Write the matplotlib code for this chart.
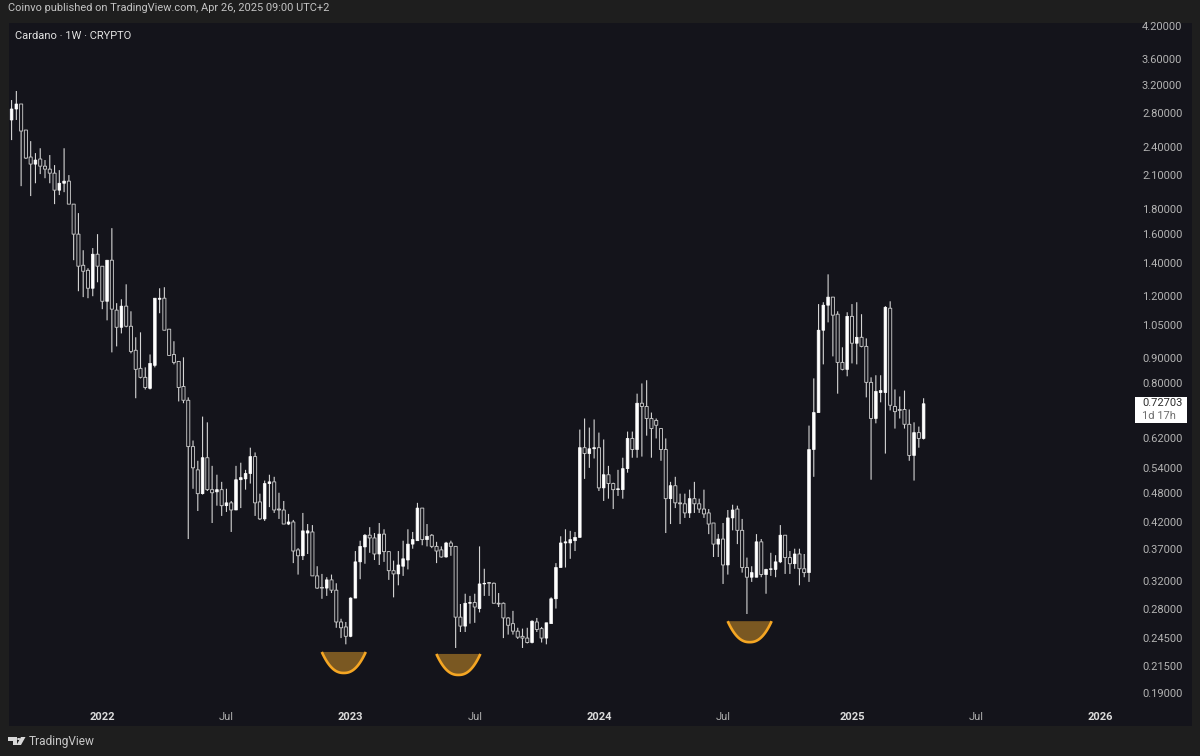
# Cardano weekly candles, log price axis
import numpy as np
import pandas as pd
import matplotlib
matplotlib.use("Agg")
import matplotlib.pyplot as plt
import matplotlib.dates as mdates
from matplotlib.patches import Rectangle, Polygon

plt.rcParams['font.family'] = ['Roboto', 'DejaVu Sans']

# weekly OHLC
opens = [2.715,2.857,2.924,2.591,2.286,2.212,2.265,2.191,2.161,2.121,
         1.960,2.024,2.044,1.837,1.598,1.383,1.351,1.243,1.456,1.377,
         1.170,1.416,1.123,1.037,1.144,1.042,.932,.857,.822,.781,
         .869,1.181,1.187,1.028,.914,.885,.788,.739,.596,.535,
         .479,.566,.488,.483,.488,.453,.459,.444,.511,.513,
         .526,.569,.461,.426,.502,.506,.446,.444,.416,.420,
         .369,.359,.399,.401,.327,.310,.309,.321,.306,.264,
         .258,.247,.295,.349,.374,.395,.390,.362,.397,.366,
         .335,.330,.342,.352,.379,.385,.448,.387,.395,.375,
         .369,.357,.381,.375,.270,.259,.288,.289,.281,.315,
         .317,.316,.288,.288,.269,.262,.253,.247,.245,.240,
         .264,.256,.245,.262,.294,.340,.381,.381,.385,.391,
         .593,.577,.590,.593,.492,.523,.502,.488,.488,.538,
         .619,.588,.729,.718,.679,.673,.648,.588,.468,.497,
         .459,.457,.438,.468,.457,.446,.438,.418,.379,.388,
         .344,.428,.446,.404,.340,.325,.325,.383,.329,.337,
         .337,.349,.395,.356,.346,.362,.338,.332,.588,.698,
         1.023,1.149,1.193,1.102,.881,.853,1.091,.963,.990,.949,
         .803,.679,.766,.766,1.133,.718,.708,.708,.661,.572,
         .636,.619]
closes = [2.857,2.924,2.579,2.275,2.212,2.254,2.191,2.161,2.121,1.960,
          2.024,2.044,1.837,1.598,1.377,1.345,1.243,1.456,1.377,1.170,
          1.416,1.128,1.037,1.144,1.042,.927,.853,.822,.784,.877,
          1.187,1.187,1.023,.910,.881,.784,.739,.596,.540,.479,
          .566,.488,.481,.488,.453,.459,.444,.511,.516,.526,
          .569,.459,.426,.502,.506,.444,.444,.416,.420,.367,
          .359,.403,.403,.327,.309,.309,.321,.306,.264,.257,
          .247,.295,.349,.375,.395,.390,.362,.397,.366,.335,
          .330,.344,.354,.379,.387,.448,.387,.393,.375,.367,
          .357,.381,.375,.270,.259,.288,.289,.283,.315,.316,
          .316,.288,.287,.269,.260,.253,.246,.245,.240,.265,
          .255,.245,.263,.294,.340,.381,.383,.387,.391,.593,
          .577,.590,.593,.492,.523,.502,.488,.490,.538,.619,
          .588,.729,.718,.679,.648,.658,.588,.468,.497,.459,
          .457,.438,.468,.457,.446,.436,.416,.379,.388,.344,
          .428,.444,.404,.340,.325,.332,.383,.329,.337,.338,
          .349,.395,.356,.346,.362,.338,.332,.588,.698,1.023,
          1.149,1.193,1.097,.881,.853,1.091,.963,.990,.949,.803,
          .679,.770,.773,1.138,.722,.701,.705,.661,.572,.636,
          .619,.72703]
highs = [2.978,3.106,2.924,2.591,2.461,2.328,2.381,2.254,2.307,2.202,
         2.151,2.381,2.102,1.837,1.762,1.483,1.364,1.498,1.598,1.377,
         1.416,1.643,1.160,1.181,1.266,1.117,.990,1.013,.861,.914,
         1.187,1.243,1.249,1.028,.972,.885,.902,.749,.613,.558,
         .685,.667,.545,.523,.506,.490,.463,.545,.553,.535,
         .593,.580,.479,.509,.523,.518,.481,.463,.436,.424,
         .372,.438,.416,.414,.342,.330,.325,.329,.316,.268,
         .264,.296,.367,.385,.397,.410,.399,.418,.406,.367,
         .351,.367,.385,.406,.401,.459,.448,.416,.397,.383,
         .375,.383,.385,.375,.287,.301,.298,.301,.375,.338,
         .317,.317,.302,.289,.270,.278,.257,.256,.257,.266,
         .269,.258,.263,.296,.347,.393,.406,.403,.401,.645,
         .679,.651,.676,.636,.616,.545,.504,.535,.566,.639,
         .639,.762,.799,.811,.698,.679,.648,.619,.506,.518,
         .479,.479,.488,.506,.468,.488,.446,.418,.397,.418,
         .444,.455,.453,.426,.356,.342,.397,.388,.338,.364,
         .360,.414,.395,.367,.371,.371,.362,.657,.818,1.155,
         1.165,1.326,1.193,1.117,.945,1.112,1.155,1.165,1.102,.985,
         .822,.830,.830,1.144,1.170,.777,.752,.773,.708,.667,
         .654,.746]
lows = [2.473,2.715,1.997,2.265,1.907,2.024,2.112,2.072,2.024,1.837,
        1.916,1.942,1.837,1.416,1.226,1.193,1.187,1.198,1.278,1.128,
        1.071,.923,.949,1.008,1.037,.919,.746,.818,.777,.777,
        .861,1.107,1.023,.910,.873,.735,.729,.388,.490,.442,
        .477,.485,.418,.453,.432,.440,.401,.444,.448,.488,
        .502,.432,.424,.422,.450,.438,.426,.416,.414,.347,
        .329,.352,.362,.327,.308,.294,.298,.302,.257,.245,
        .238,.246,.295,.322,.346,.364,.352,.344,.349,.321,
        .296,.313,.327,.337,.371,.385,.377,.375,.372,.347,
        .356,.356,.359,.234,.252,.252,.262,.263,.276,.298,
        .298,.288,.283,.245,.249,.249,.244,.234,.239,.239,
        .252,.240,.238,.262,.281,.340,.340,.354,.367,.391,
        .513,.540,.564,.485,.463,.468,.446,.474,.468,.528,
        .566,.566,.569,.627,.566,.619,.558,.399,.416,.448,
        .416,.428,.428,.438,.438,.428,.397,.357,.357,.315,
        .329,.404,.379,.332,.274,.318,.325,.325,.301,.327,
        .325,.347,.330,.330,.338,.313,.325,.318,.518,.698,
        .873,1.061,.906,.762,.849,.826,.877,.873,.945,.749,
        .511,.664,.732,.577,.705,.648,.679,.648,.558,.509,
        .593,.616]
first_week = "2021-08-23"

price_ticks = [4.2,3.6,3.2,2.8,2.4,2.1,1.8,1.6,1.4,1.2,1.05,0.9,0.8,0.62,
               0.54,0.48,0.42,0.37,0.32,0.28,0.245,0.215,0.19]
time_ticks = ["2022-01-03","2022-07-04","2023-01-02","2023-07-03","2024-01-01",
              "2024-07-01","2025-01-06","2025-07-07","2026-01-05"]
time_labels = ["2022","Jul","2023","Jul","2024","Jul","2025","Jul","2026"]

# orange bowls drawn under the three lows (centre day, price of the flat top)
bowl_weeks = ["2022-12-23","2023-06-09","2024-08-09"]
bowl_tops = [0.2297,0.2276,0.2650]

BG = "#14141b"
FRAME = "#1e1e1e"
W, H = 1200, 756
PX_WEEK = 4.775
PX_LOG = 215.4

def fx(x):
    return x / W

def fy(y):
    return 1 - y / H

fig = plt.figure(figsize=(12, 7.56), dpi=100, facecolor=FRAME)
L, T, R, B = 9, 23, 1192, 726
ax = fig.add_axes([fx(L), fy(B), fx(R - L), (B - T) / H], facecolor=BG)
for s in ax.spines.values():
    s.set_visible(False)

dates = pd.date_range(first_week, periods=len(opens), freq="7D")
x = mdates.date2num(dates)
o, c, h, l = map(np.array, (opens, closes, highs, lows))
up = c >= o

day_px = PX_WEEK / 7
x0 = mdates.date2num(pd.Timestamp("2022-01-03"))
ax.set_xlim(x0 - (102.3 - L) / day_px, x0 + (R - 102.3) / day_px)
ax.set_yscale("log")
ax.set_ylim(4.2 * np.exp(-(B - 26) / PX_LOG), 4.2 * np.exp((26 - T) / PX_LOG))

wicks = ax.vlines(x, l, h, colors="#d4d4d4", linewidth=0.8, zorder=2)
wicks.set_snap(False)
body_bottom = np.minimum(o, c)
body_height = np.abs(c - o)
filled = ax.bar(x[up], body_height[up], 2.7 / day_px, body_bottom[up], color="#ffffff",
                edgecolor="#ffffff", linewidth=0.5, zorder=3)
hollow = ax.bar(x[~up], body_height[~up], 3.1 / day_px, body_bottom[~up], color=BG,
                edgecolor="#c8c8c8", linewidth=0.65, zorder=3)
for r in list(filled) + list(hollow):
    r.set_snap(False)

# bowls
u = np.linspace(-1, 1, 60)
for wk, top in zip(bowl_weeks, bowl_tops):
    xc = mdates.date2num(pd.Timestamp(wk))
    xs = xc + u * 22 / day_px
    ys = top * np.exp(-(1 - np.abs(u) ** 2.3) * 21 / PX_LOG)
    ax.fill(xs, ys, color="#7a5822", lw=0, zorder=4)
    ax.plot(xs, ys, color="#f5a623", lw=1.9, solid_capstyle="butt", zorder=5)

ax.set_xticks(mdates.date2num(pd.to_datetime(time_ticks)))
ax.set_xticklabels(time_labels)
for t, lab in zip(ax.get_xticklabels(), time_labels):
    if lab == "Jul":
        t.set_color("#aeaeae")
    else:
        t.set_color("#dcdcdc")
        t.set_fontweight("bold")
ax.tick_params(axis="x", length=0, pad=-10, labelsize=8)
ax.minorticks_off()

ax.yaxis.tick_right()
ax.set_yticks(price_ticks)
ax.set_yticklabels(["%.5f" % p for p in price_ticks])
ax.tick_params(axis="y", which="both", length=0, pad=-36, labelsize=8, labelcolor="#b4b4b4")
ax.minorticks_off()

# last price box
fig.add_artist(Rectangle((fx(1135), fy(423)), 52 / W, 26 / H, transform=fig.transFigure,
                         facecolor="#ffffff", edgecolor="none", zorder=6))
fig.text(fx(1142), fy(403.5), "0.72703", color="#2c2c2c", fontsize=8, va="center", zorder=7)
fig.text(fx(1142), fy(416), "1d 17h", color="#6e6e6e", fontsize=8, va="center", zorder=7)

# header and footer
fig.text(fx(8), fy(8), "Coinvo published on TradingView.com, Apr 26, 2025 09:00 UTC+2",
         color="#c4c4c4", fontsize=7.9, va="center")
fig.text(fx(15), fy(36), "Cardano · 1W · CRYPTO", color="#e2e2e2", fontsize=8, va="center")

# TradingView logo
logo = [[(8, 737), (17, 737), (17, 745), (13, 745), (13, 741), (8, 741)],
        [(21, 737), (25.5, 737), (21, 745), (16.5, 745)]]
for pts in logo:
    pts = [(fx(a), fy(b)) for a, b in pts]
    fig.add_artist(Polygon(pts, closed=True, transform=fig.transFigure,
                           facecolor="#d8d8d8", edgecolor="none", zorder=6))
fig.add_artist(plt.Circle((fx(18.7), fy(739)), 1.6 / W, transform=fig.transFigure,
                          facecolor="#d8d8d8", edgecolor="none", zorder=6))
fig.text(fx(28.5), fy(741.5), "TradingView", color="#c8c8c8", fontsize=8.6, va="center")

fig.savefig("out.png", dpi=100, facecolor=FRAME)
